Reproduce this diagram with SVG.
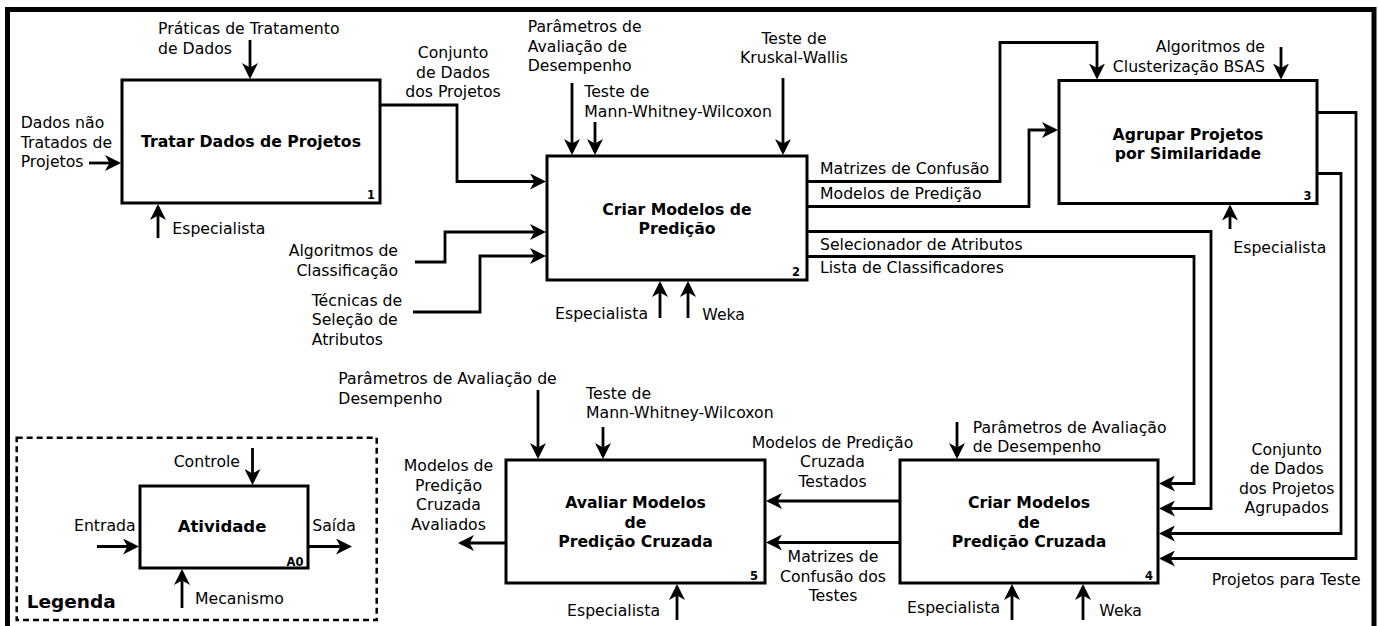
<svg xmlns="http://www.w3.org/2000/svg" width="1378" height="626" viewBox="0 0 1378 626">
<style>
text{font-family:"DejaVu Sans",sans-serif;font-size:15.7px;fill:#000}
.t{font-weight:bold;text-anchor:middle}
.n{font-weight:bold;font-size:11.5px;text-anchor:end}
.m{text-anchor:middle}
.e{text-anchor:end}
.box{fill:#fff;stroke:#000;stroke-width:3}
.c path{fill:none;stroke:#000;stroke-width:2.8;marker-end:url(#ah)}
</style>
<defs>
<marker id="ah" markerUnits="userSpaceOnUse" viewBox="0 0 16 16" markerWidth="16" markerHeight="16" refX="13" refY="8" orient="auto">
<path d="M0,0 L16,8 L0,16 L4.5,8 z" fill="#000"/>
</marker>
</defs>
<rect x="7.5" y="9.5" width="1366.5" height="700" fill="#fff" stroke="#000" stroke-width="5"/>

<g id="legend">
<rect x="16.7" y="437.7" width="360" height="182.3" fill="none" stroke="#000" stroke-width="2.5" stroke-dasharray="6,4"/>
<rect class="box" x="140" y="486" width="168" height="82"/>
<text class="t" x="222" y="532" style="font-size:16.5px">Atividade</text>
<text class="n" x="303.5" y="566">A0</text>
<text class="e" x="240" y="467">Controle</text>
<text x="74" y="531">Entrada</text>
<text x="312.3" y="531">Saída</text>
<text x="195" y="604">Mecanismo</text>
<text x="26.7" y="607.5" style="font-weight:bold;font-size:18.5px">Legenda</text>
</g>

<g id="node1">
<rect class="box" x="122" y="80" width="258" height="123"/>
<text class="t" x="251" y="147">Tratar Dados de Projetos</text>
<text class="n" x="375" y="198.5">1</text>
</g>
<g id="node2">
<rect class="box" x="547" y="156" width="260" height="124"/>
<text class="t" x="677" y="215">Criar Modelos de</text>
<text class="t" x="677" y="234">Predição</text>
<text class="n" x="800" y="276">2</text>
</g>
<g id="node3">
<rect class="box" x="1059" y="80.5" width="258" height="123"/>
<text class="t" x="1188" y="139.5">Agrupar Projetos</text>
<text class="t" x="1188" y="158.5">por Similaridade</text>
<text class="n" x="1311.5" y="200">3</text>
</g>
<g id="node4">
<rect class="box" x="900" y="460" width="258" height="123"/>
<text class="t" x="1029" y="508">Criar Modelos</text>
<text class="t" x="1029" y="527.5">de</text>
<text class="t" x="1029" y="547">Predição Cruzada</text>
<text class="n" x="1153" y="580">4</text>
</g>
<g id="node5">
<rect class="box" x="506" y="460" width="259" height="123"/>
<text class="t" x="635.5" y="508">Avaliar Modelos</text>
<text class="t" x="635.5" y="527.5">de</text>
<text class="t" x="635.5" y="547">Predição Cruzada</text>
<text class="n" x="758" y="580">5</text>
</g>

<g id="connectors" class="c">
<path d="M250,40 V76"/>
<path d="M89,163 H118"/>
<path d="M158,238 V207"/>
<path d="M380,105 H457 V181.5 H543"/>
<path d="M572,83 V152"/>
<path d="M595,122 V152"/>
<path d="M783,78 V152"/>
<path d="M415,262 H445 V232 H543"/>
<path d="M413,312 H480 V256 H543"/>
<path d="M660,318 V284"/>
<path d="M688,318 V284"/>
<path d="M807,181.5 H1000 V42.5 H1097 V76.5"/>
<path d="M807,206.5 H1029 V130 H1055"/>
<path d="M807,231.5 H1211 V508.5 H1162"/>
<path d="M807,256.5 H1194 V483.5 H1162"/>
<path d="M1281,47 V76.5"/>
<path d="M1230,229 V207.5"/>
<path d="M1317,112.5 H1356 V558.5 H1162"/>
<path d="M1317,173.5 H1341 V533.5 H1162"/>
<path d="M957,422 V456"/>
<path d="M1012,620 V587"/>
<path d="M1083,620 V587"/>
<path d="M900,501 H769"/>
<path d="M900,542.5 H769"/>
<path d="M538,390 V456"/>
<path d="M603,427 V456"/>
<path d="M677,620 V587"/>
<path d="M506,543 H461"/>
<path d="M252.5,448 V482"/>
<path d="M97,546.5 H136"/>
<path d="M308,546.5 H349"/>
<path d="M182,608 V572"/>
</g>

<g id="labels">
<text x="158" y="34">Práticas de Tratamento</text>
<text x="158" y="54">de Dados</text>
<text x="20.7" y="128">Dados não</text>
<text x="20.7" y="147.5">Tratados de</text>
<text x="20.7" y="167">Projetos</text>
<text x="172.3" y="234">Especialista</text>
<text class="m" x="453" y="58">Conjunto</text>
<text class="m" x="453" y="77.5">de Dados</text>
<text class="m" x="453" y="97">dos Projetos</text>
<text x="527.7" y="32">Parâmetros de</text>
<text x="527.7" y="51.5">Avaliação de</text>
<text x="527.7" y="71">Desempenho</text>
<text x="584.3" y="97">Teste de</text>
<text x="584.3" y="117">Mann-Whitney-Wilcoxon</text>
<text class="m" x="794" y="43.5">Teste de</text>
<text class="m" x="794" y="63">Kruskal-Wallis</text>
<text x="820" y="173.5">Matrizes de Confusão</text>
<text x="820" y="198.5">Modelos de Predição</text>
<text class="e" x="1265" y="52">Algoritmos de</text>
<text class="e" x="1265" y="72">Clusterização BSAS</text>
<text class="e" x="398" y="256">Algoritmos de</text>
<text class="e" x="398" y="275.5">Classificação</text>
<text x="311.7" y="305.5">Técnicas de</text>
<text x="311.7" y="325">Seleção de</text>
<text x="311.7" y="345">Atributos</text>
<text class="e" x="648" y="318.5">Especialista</text>
<text x="702.3" y="320">Weka</text>
<text x="820" y="249.5">Selecionador de Atributos</text>
<text x="820" y="273">Lista de Classificadores</text>
<text x="1233.3" y="253">Especialista</text>
<text x="338.3" y="384">Parâmetros de Avaliação de</text>
<text x="338.3" y="403.5">Desempenho</text>
<text x="586" y="398.5">Teste de</text>
<text x="586" y="418">Mann-Whitney-Wilcoxon</text>
<text x="972.7" y="432.5">Parâmetros de Avaliação</text>
<text x="972.7" y="452">de Desempenho</text>
<text class="m" x="1286.7" y="454.5">Conjunto</text>
<text class="m" x="1286.7" y="474">de Dados</text>
<text class="m" x="1286.7" y="493.5">dos Projetos</text>
<text class="m" x="1286.7" y="513">Agrupados</text>
<text x="1211.7" y="585">Projetos para Teste</text>
<text class="m" x="832.5" y="447.5">Modelos de Predição</text>
<text class="m" x="832.5" y="467">Cruzada</text>
<text class="m" x="832.5" y="487">Testados</text>
<text class="m" x="833" y="562">Matrizes de</text>
<text class="m" x="833" y="581.5">Confusão dos</text>
<text class="m" x="833" y="601">Testes</text>
<text class="m" x="448.5" y="471">Modelos de</text>
<text class="m" x="448.5" y="490.5">Predição</text>
<text class="m" x="448.5" y="510">Cruzada</text>
<text class="m" x="448.5" y="529.5">Avaliados</text>
<text class="e" x="660" y="616">Especialista</text>
<text class="e" x="1000" y="613">Especialista</text>
<text x="1099.3" y="616">Weka</text>
</g>
</svg>
